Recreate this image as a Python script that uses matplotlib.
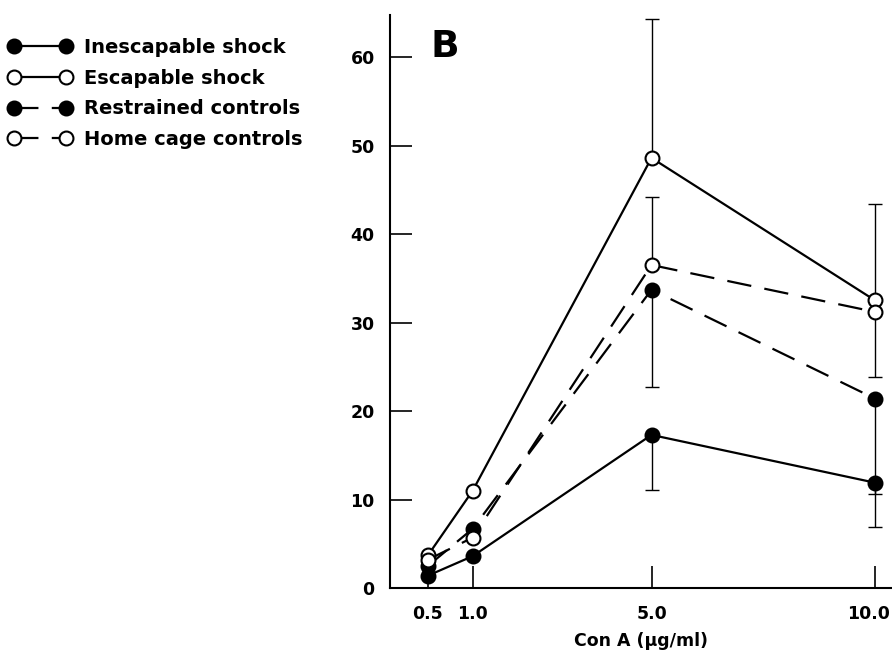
import matplotlib
matplotlib.use("Agg")
import matplotlib.pyplot as plt
import matplotlib.transforms as mtransforms
from matplotlib.lines import Line2D

plt.rcParams['font.family'] = ['DejaVu Sans']
plt.rcParams['font.weight'] = 'bold'

# Con A 농도 (원본 축은 0.5를 1.0 왼쪽 한 칸에 그림)
conc_labels = ['0.5', '1.0', '5.0', '10.0']
x_pos = [0, 1, 5, 10]

# 그룹별 평균값
inescapable = [1.4, 3.6, 17.3, 11.9]
escapable = [3.7, 11.0, 48.6, 32.5]
restrained = [2.5, 6.7, 33.7, 21.4]
home_cage = [3.2, 5.7, 36.5, 31.2]

# 오차 막대 (아래, 위)
inescapable_lo = [0, 0, 6.2, 5.0]
inescapable_hi = [0, 0, 0, 0]
escapable_lo = [0, 0, 0, 0]
escapable_hi = [0, 0, 15.7, 10.9]
restrained_lo = [0, 0, 11.0, 10.8]
restrained_hi = [0, 0, 0, 0]
home_lo = [0, 0, 0, 7.4]
home_hi = [0, 0, 7.7, 0]

y_ticks = [0, 10, 20, 30, 40, 50, 60]
labels = ['Inescapable shock', 'Escapable shock', 'Restrained controls', 'Home cage controls']

W, H = 892, 656
fig = plt.figure(figsize=(W / 100, H / 100), dpi=100)
ax = fig.add_axes([390 / W, 1 - 588 / H, 1 - 390 / W, (588 - 15) / H])

dash = (0, (11, 6))
series = [
    (inescapable, inescapable_lo, inescapable_hi, '-', 'black'),
    (escapable, escapable_lo, escapable_hi, '-', 'white'),
    (restrained, restrained_lo, restrained_hi, dash, 'black'),
    (home_cage, home_lo, home_hi, dash, 'white'),
]

handles = []
for vals, lo, hi, ls, face in series:
    # 오차 막대 먼저 (마커 아래)
    for x, v, l, h in zip(x_pos, vals, lo, hi):
        if l > 0 or h > 0:
            ax.errorbar([x], [v], yerr=[[l], [h]], fmt='none', ecolor='black',
                        elinewidth=1.0, capsize=5, capthick=1.0, zorder=2, clip_on=False)
    ax.plot(x_pos, vals, linestyle=ls, color='black', lw=1.6, zorder=3, clip_on=False)
    ax.plot(x_pos, vals, linestyle='none', marker='o', ms=10, mfc=face, mec='black',
            mew=1.5, zorder=4 + (1 if face == 'white' else 0), clip_on=False)
    handles.append(Line2D([], [], linestyle=ls, color='black', lw=1.6, marker='o',
                          ms=10, mfc=face, mec='black', mew=1.5))

ax.set_xlim(-0.85, 10.38)
ax.set_ylim(0, 64.75)
ax.set_xticks(x_pos)
ax.set_xticklabels(conc_labels)
ax.set_yticks(y_ticks)
ax.tick_params(axis='both', direction='in', length=16, width=1.2, labelsize=12.5)
ax.tick_params(axis='y', pad=11)
ax.tick_params(axis='x', pad=12)
for s in ['top', 'right']:
    ax.spines[s].set_visible(False)
for s in ['left', 'bottom']:
    ax.spines[s].set_linewidth(1.5)

# 오른쪽 끝 라벨이 잘리지 않게 살짝 왼쪽으로
last = ax.get_xticklabels()[-1]
last.set_transform(last.get_transform() +
                   mtransforms.ScaledTranslation(-7 / 100, 0, fig.dpi_scale_trans))

ax.set_xlabel('Con A (µg/ml)', fontsize=12.5, fontweight='bold', labelpad=7)

fig.text(430 / W, 1 - 57 / H, 'B', fontsize=27, fontweight='bold', va='baseline', ha='left')

fig.legend(handles, labels, loc='upper left', bbox_to_anchor=(8 / W, 1 - 38 / H),
           frameon=False, numpoints=2, handlelength=3.3, handletextpad=0.6,
           labelspacing=0.6, borderaxespad=0, borderpad=0,
           prop={'size': 14, 'weight': 'bold'})

fig.savefig('out.png', dpi=100)
